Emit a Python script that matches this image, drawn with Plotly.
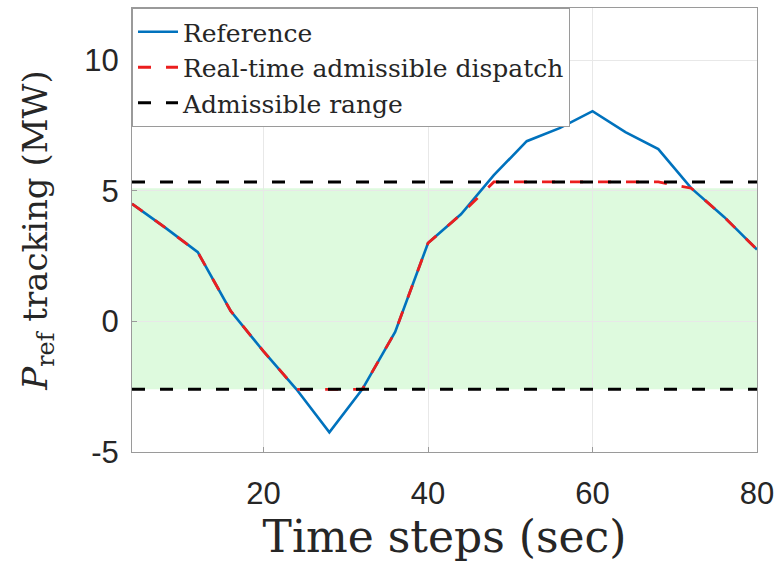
import plotly.graph_objects as go

time_steps = [4, 8, 12, 16, 20, 24, 28, 32, 36, 40, 44, 48, 52, 56, 60, 64, 68, 72, 76, 80]
reference = [4.5, 3.6, 2.65, 0.4, -1.15, -2.6, -4.25, -2.6, -0.4, 3.0, 4.1, 5.6, 6.9, 7.4, 8.05, 7.25, 6.6, 5.1, 4.0, 2.75]
dispatch = [4.5, 3.6, 2.65, 0.4, -1.15, -2.6, -2.6, -2.6, -0.4, 3.0, 4.1, 5.34, 5.34, 5.34, 5.34, 5.34, 5.34, 5.1, 4.0, 2.75]
range_upper = 5.34
range_lower = -2.6
band = [-2.6, 5.1]
x_ticks = [20, 40, 60, 80]
y_ticks = [-5, 0, 5, 10]
y_tick_labels = ["-5", "0", "5", "10"]
x_limits = [4, 80]
y_limits = [-5, 12]

blue = "rgb(0,114,189)"
serif = "DejaVu Serif"
sans = "Liberation Sans"
ink = "#262626"

fig = go.Figure()
fig.add_shape(type="rect", xref="x", yref="y", x0=x_limits[0], x1=x_limits[1],
              y0=band[0], y1=band[1], fillcolor="rgb(222,250,222)", line_width=0, layer="below")

fig.add_trace(go.Scatter(x=time_steps, y=reference, mode="lines", name="Reference",
                         line=dict(color=blue, width=2.6)))
fig.add_trace(go.Scatter(x=time_steps, y=dispatch, mode="lines", name="Real-time admissible dispatch",
                         line=dict(color="rgb(235,30,30)", width=2.8, dash="13px,15px")))
fig.add_trace(go.Scatter(x=x_limits, y=[range_upper, range_upper], mode="lines", name="Admissible range",
                         line=dict(color="black", width=3, dash="13px,15px")))
fig.add_trace(go.Scatter(x=x_limits, y=[range_lower, range_lower], mode="lines", showlegend=False,
                         line=dict(color="black", width=3, dash="13px,15px")))

axis_common = dict(showline=True, linecolor="#9a9a9a", linewidth=1, mirror=True,
                   ticks="inside", ticklen=5, tickcolor="#9a9a9a",
                   showgrid=True, gridcolor="#e8e8e8", gridwidth=1, zeroline=False,
                   tickfont=dict(family=sans, size=31, color=ink))

fig.update_xaxes(range=x_limits, tickvals=x_ticks, ticklabelstandoff=14, **axis_common,
                 title=dict(text="Time steps (sec)", font=dict(family=serif, size=44, color=ink), standoff=4))
fig.update_yaxes(range=y_limits, tickvals=y_ticks, ticktext=y_tick_labels, ticklabelstandoff=6, **axis_common,
                 title=dict(text="<i>P</i><sub>ref</sub> tracking (MW)", font=dict(family=serif, size=34, color=ink), standoff=26))

fig.update_layout(
    width=782, height=572,
    margin=dict(l=132, r=25, t=8, b=120),
    paper_bgcolor="white", plot_bgcolor="white",
    legend=dict(x=0, y=1, xanchor="left", yanchor="top",
                bgcolor="white", bordercolor="#9a9a9a", borderwidth=1,
                font=dict(family=serif, size=25, color=ink),
                itemwidth=40, tracegroupgap=0),
)

fig.write_html("out.html")
